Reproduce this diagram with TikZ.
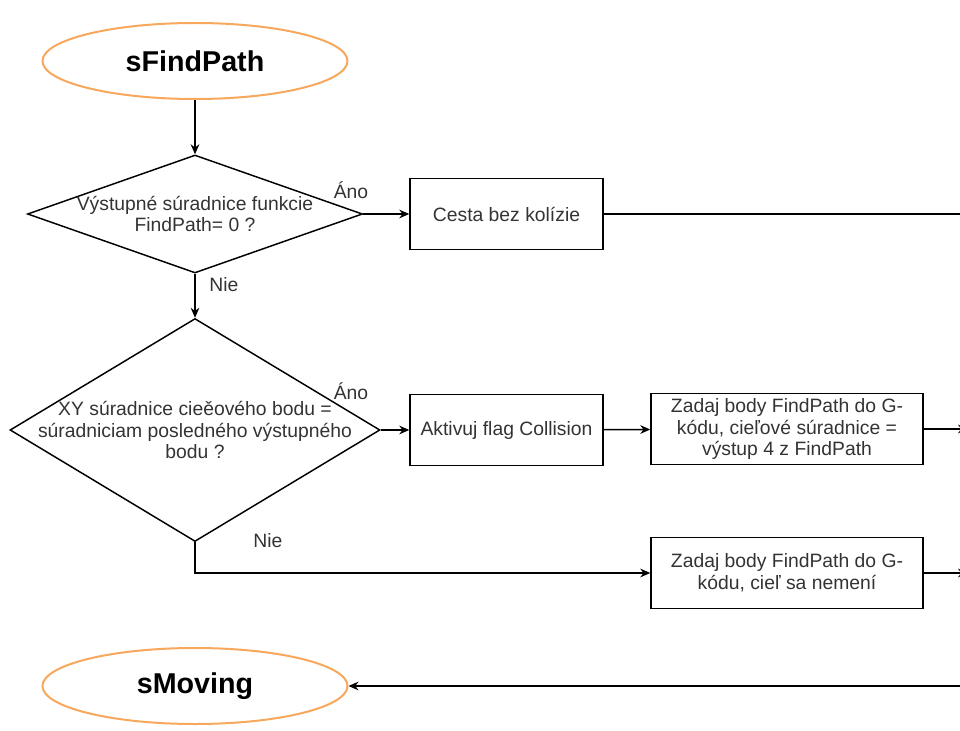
\documentclass[tikz,border=0pt]{standalone}
\usepackage{fontspec}
\setmainfont{Liberation Sans}
\usetikzlibrary{shapes.geometric, arrows.meta}
\definecolor{stavorange}{RGB}{247,168,92}
\definecolor{textgray}{RGB}{51,51,51}
\begin{document}
\begin{tikzpicture}[x=0.75pt, y=-0.75pt, >={Stealth[length=7.5pt,width=6.5pt]}, line width=1.1pt,
    stav/.style={ellipse, draw=stavorange, line width=1.5pt, minimum width=305*0.75pt,
        minimum height=76*0.75pt, font=\fontsize{21.5}{25}\selectfont\bfseries},
    rozhod/.style={diamond, draw, inner sep=0pt},
    krok/.style={rectangle, draw, align=center, text=textgray, minimum height=71*0.75pt,
        font=\fontsize{14.5}{16.2}\selectfont},
    popis/.style={text=textgray, align=center, font=\fontsize{14.5}{16.2}\selectfont}]
    \useasboundingbox (0,0) rectangle (960,731);

    % Stavy
    \node[stav] (start) at (195,61) {sFindPath};
    \node[stav] (moving) at (195,686) {sMoving};

    % Rozhodnutia
    \node[rozhod, minimum width=335*0.75pt, minimum height=118*0.75pt] (d1) at (195,214) {};
    \node[popis] (d1text) at (d1.center) {Výstupné súradnice funkcie\\FindPath= 0 ?};
    \node[rozhod, minimum width=370*0.75pt, minimum height=223*0.75pt] (d2) at (195,430) {};
    \node[popis] (d2text) at (d2.center) {XY súradnice cieěového bodu =\\súradniciam posledného výstupného\\bodu ?};

    % Kroky
    \node[krok, minimum width=193*0.75pt] (cesta) at (506.5,214) {Cesta bez kolízie};
    \node[krok, minimum width=193*0.75pt] (flag) at (506.5,430) {Aktivuj flag Collision};
    \node[krok, minimum width=272*0.75pt] (zadaj1) at (787,429) {Zadaj body FindPath do G-\\kódu, cieľové súradnice =\\výstup 4 z FindPath};
    \node[krok, minimum width=272*0.75pt] (zadaj2) at (787,573) {Zadaj body FindPath do G-\\kódu, cieľ sa nemení};

    % Okraj vpravo
    \coordinate (r1) at (960,214);
    \coordinate (r2) at (968,429);
    \coordinate (r3) at (968,573);
    \coordinate (r4) at (960,686);
    \coordinate (ohyb) at (d2.south |- zadaj2.west);

    % Spojenia
    \draw[->] (start) -- (d1);
    \draw[->] (d1) -- (cesta);
    \draw (cesta) -- (r1);
    \draw[->] (d1) -- (d2);
    \draw[->] (d2) -- (flag);
    \draw[->] (flag) -- (zadaj1);
    \draw[->] (zadaj1) -- (r2);
    \draw[->] (d2.south) -- (ohyb) -- (zadaj2.west);
    \draw[->] (zadaj2) -- (r3);
    \draw[->] (r4) -- (moving);

    % Popisy vetiev
    \node[popis] (ano1) at (351,190) {Áno};
    \node[popis] (nie1) at (224,285) {Nie};
    \node[popis] (ano2) at (351,391) {Áno};
    \node[popis] (nie2) at (268,541) {Nie};
\end{tikzpicture}
\end{document}
